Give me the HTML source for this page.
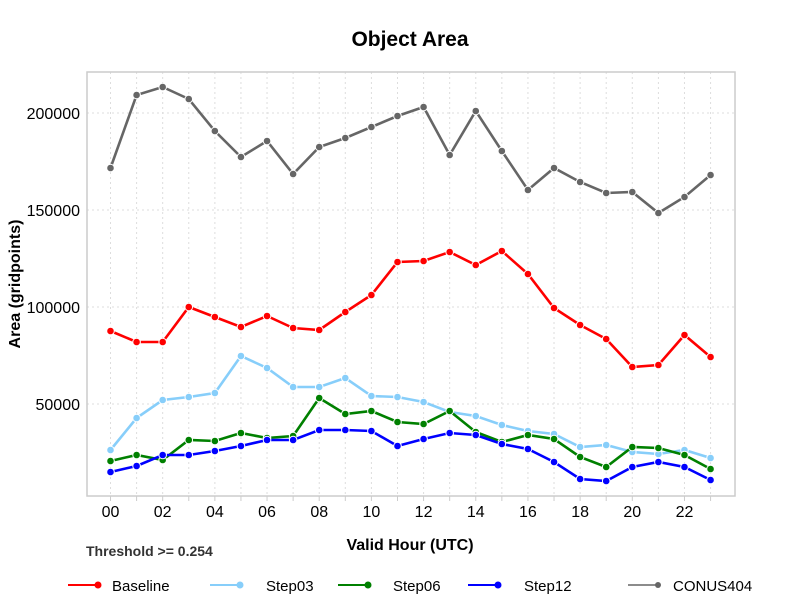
<!DOCTYPE html>
<html><head><meta charset="utf-8"><style>
body{margin:0;background:#fff}
svg{display:block;font-family:"Liberation Sans",sans-serif}
</style></head><body>
<svg width="792" height="612" viewBox="0 0 792 612" xmlns="http://www.w3.org/2000/svg">
<rect width="792" height="612" fill="#fff"/>
<text x="410" y="46" text-anchor="middle" font-size="21" font-weight="bold">Object Area</text>
<g stroke="#ddd" stroke-dasharray="2,3" stroke-width="1">
<line x1="87" x2="735" y1="113" y2="113"/><line x1="87" x2="735" y1="210" y2="210"/><line x1="87" x2="735" y1="307" y2="307"/><line x1="87" x2="735" y1="404" y2="404"/>
</g>
<g id="vg" stroke="#ddd" stroke-dasharray="2,3" stroke-width="1"></g>
<rect x="87" y="72" width="648" height="424" fill="none" stroke="#ccc" stroke-width="1.5"/>
<g font-size="16" text-anchor="end" fill="#000">
<text x="80" y="119">200000</text><text x="80" y="216">150000</text><text x="80" y="313">100000</text><text x="80" y="410">50000</text>
</g>
<g id="xt" font-size="16" text-anchor="middle"></g>
<text x="410" y="550" text-anchor="middle" font-size="16" font-weight="bold">Valid Hour (UTC)</text>
<text transform="translate(20,284) rotate(-90)" text-anchor="middle" font-size="16" font-weight="bold">Area (gridpoints)</text>
<text x="86" y="556" font-size="14" font-weight="bold" fill="#333">Threshold &gt;= 0.254</text>
<g id="series"></g>
<g font-size="15">
<line x1="68" x2="98" y1="585" y2="585" stroke="#f00" stroke-width="2"/><circle cx="98" cy="585" r="3.5" fill="#f00"/><text x="112" y="591">Baseline</text>
<line x1="210" x2="240" y1="585" y2="585" stroke="#87cefa" stroke-width="2"/><circle cx="240" cy="585" r="3.5" fill="#87cefa"/><text x="266" y="591">Step03</text>
<line x1="338" x2="368" y1="585" y2="585" stroke="#008000" stroke-width="2"/><circle cx="368" cy="585" r="3.5" fill="#008000"/><text x="393" y="591">Step06</text>
<line x1="468" x2="498" y1="585" y2="585" stroke="#00f" stroke-width="2"/><circle cx="498" cy="585" r="3.5" fill="#00f"/><text x="524" y="591">Step12</text>
<line x1="628" x2="658" y1="585" y2="585" stroke="#666" stroke-width="1.5"/><circle cx="658" cy="585" r="3" fill="#666"/><text x="673" y="591">CONUS404</text>
</g>
</svg>
<script>
const ns="http://www.w3.org/2000/svg";
const X=i=>110.5+i*26.09;
const vg=document.getElementById('vg'),xt=document.getElementById('xt');
for(let i=0;i<24;i++){let l=document.createElementNS(ns,'line');l.setAttribute('x1',X(i));l.setAttribute('x2',X(i));l.setAttribute('y1',72);l.setAttribute('y2',496);vg.appendChild(l);
let t=document.createElementNS(ns,'line');t.setAttribute('x1',X(i));t.setAttribute('x2',X(i));t.setAttribute('y1',496);t.setAttribute('y2',501);t.setAttribute('stroke','#ccc');xt.appendChild(t);
if(i%2==0){let s=document.createElementNS(ns,'text');s.setAttribute('x',X(i));s.setAttribute('y',517);s.textContent=String(i).padStart(2,'0');xt.appendChild(s);}}
const S=[
["#666",[168,95,87,99,131,157,141,174,147,138,127,116,107,155,111,151,190,168,182,193,192,213,197,175]],
["#f00",[331,342,342,307,317,327,316,328,330,312,295,262,261,252,265,251,274,308,325,339,367,365,335,357]],
["#87cefa",[450,418,400,397,393,356,368,387,387,378,396,397,402,412,416,425,431,434,447,445,452,454,450,458]],
["#008000",[461,455,460,440,441,433,438,436,398,414,411,422,424,411,432,442,435,439,457,467,447,448,455,469]],
["#00f",[472,466,455,455,451,446,440,440,430,430,431,446,439,433,435,444,449,462,479,481,467,462,467,480]]];
const g=document.getElementById('series');
for(const [c,ys] of S){let p=document.createElementNS(ns,'polyline');p.setAttribute('points',ys.map((y,i)=>X(i)+','+y).join(' '));p.setAttribute('fill','none');p.setAttribute('stroke',c);p.setAttribute('stroke-width','2.6');g.appendChild(p);
ys.forEach((y,i)=>{let k=document.createElementNS(ns,'circle');k.setAttribute('cx',X(i));k.setAttribute('cy',y);k.setAttribute('r',3.8);k.setAttribute('fill',c);k.setAttribute('stroke','#fff');k.setAttribute('stroke-width','1');g.appendChild(k);});}
</script>
</body></html>
